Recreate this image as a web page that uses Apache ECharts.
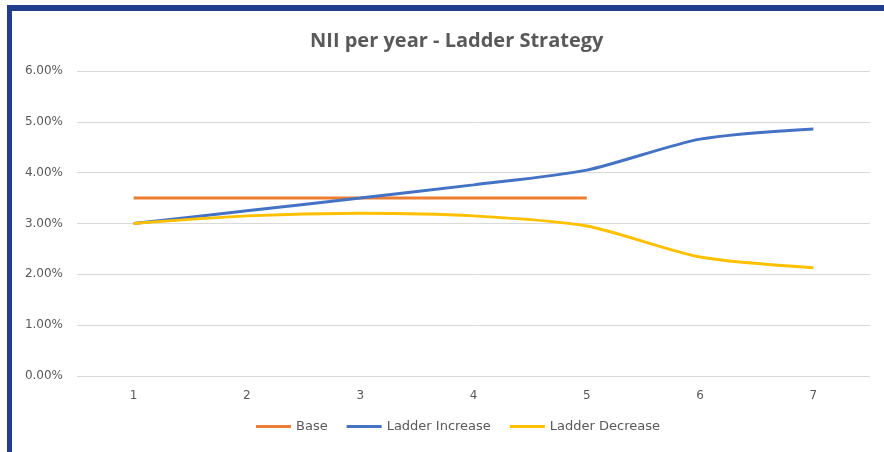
<!DOCTYPE html>
<html><head><meta charset="utf-8">
<script src="https://cdn.jsdelivr.net/npm/echarts@6/dist/echarts.min.js"></script>
<style>
html,body{margin:0;padding:0;background:#fff;}
#frameTop{position:absolute;left:7px;top:5px;width:877px;height:6px;background:#213d8c;}
#frameLeft{position:absolute;left:7px;top:5px;width:5px;height:447px;background:#213d8c;}
#chart{position:absolute;left:0;top:0;width:884px;height:452px;}
</style></head>
<body>
<div id="chart"></div>
<div id="frameTop"></div>
<div id="frameLeft"></div>
<script>
const categories = ['1','2','3','4','5','6','7'];
const baseValues = [0.035,0.035,0.035,0.035,0.035,null,null];
const increaseValues = [0.030,0.0325,0.035,0.0376,0.0405,0.0466,0.0486];
const decreaseValues = [0.030,0.0315,0.0320,0.0315,0.0295,0.0234,0.0213];
const seriesNames = ['Base','Ladder Increase','Ladder Decrease'];
const colors = ['#ED7D31','#4472C4','#FFC000'];
const font = '"Open Sans", "Noto Sans", sans-serif';
const labelFont = '"DejaVu Sans", sans-serif';

const chart = echarts.init(document.getElementById('chart'));
const mk = (name, data, color) => ({
  name, type:'line', data, smooth:0.25, symbol:'none',
  lineStyle:{color, width:3}, itemStyle:{color}
});
chart.setOption({
  animation:false,
  color:colors,
  title:{text:'NII per year - Ladder Strategy', left:305, top:26,
    textStyle:{fontFamily:font, fontSize:20, fontWeight:'bold', color:'#595959'}},
  grid:{left:77, right:14, top:71, bottom:76},
  legend:{bottom:14, left:251, itemWidth:35, itemHeight:3, itemGap:19,
    icon:'rect',
    textStyle:{fontFamily:labelFont, fontSize:13, color:'#595959'}, data:seriesNames},
  xAxis:{type:'category', data:categories, boundaryGap:true,
    axisLine:{show:false}, axisTick:{show:false},
    axisLabel:{fontFamily:labelFont, fontSize:12, color:'#595959', margin:14}},
  yAxis:{type:'value', min:0, max:0.06, interval:0.01,
    axisLine:{show:false}, axisTick:{show:false},
    splitLine:{lineStyle:{color:'#d9d9d9', width:1}},
    axisLabel:{fontFamily:labelFont, fontSize:12, color:'#595959', margin:14,
      formatter:v=>(v*100).toFixed(2)+'%'}},
  series:[mk(seriesNames[0], baseValues, colors[0]),
          mk(seriesNames[1], increaseValues, colors[1]),
          mk(seriesNames[2], decreaseValues, colors[2])]
});
</script>
</body></html>
